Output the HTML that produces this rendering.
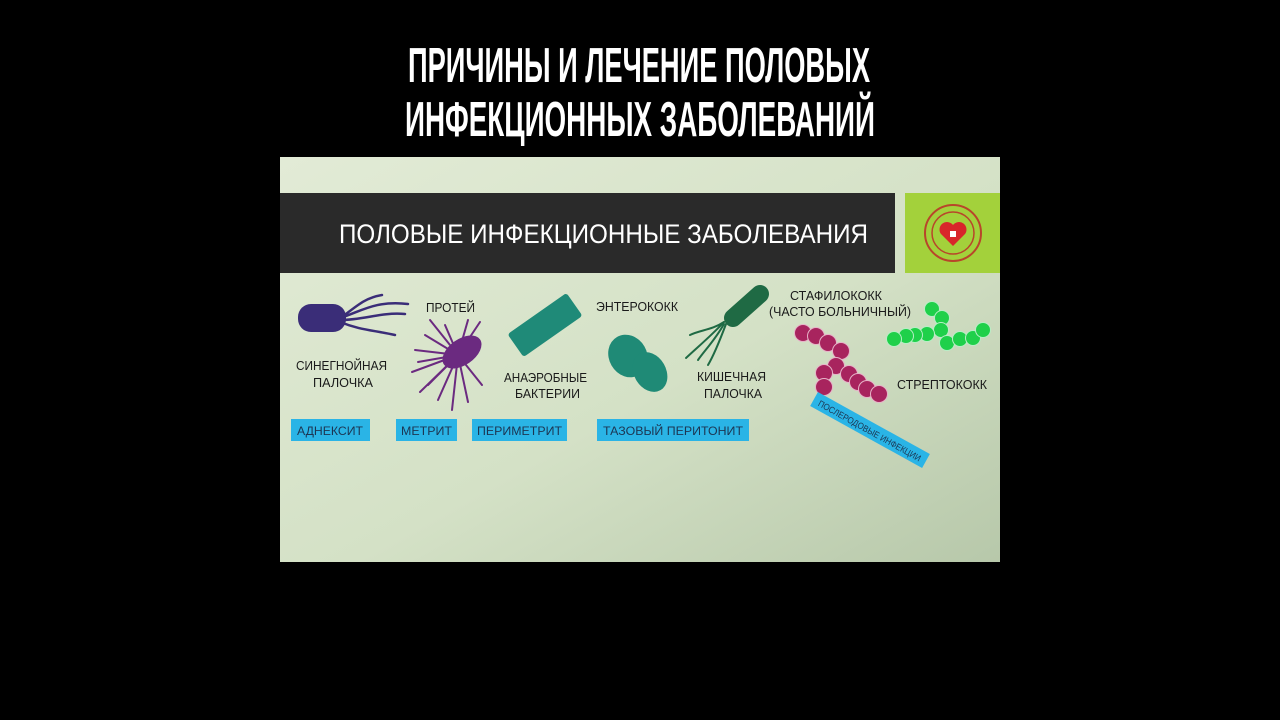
<!DOCTYPE html>
<html><head><meta charset="utf-8"><style>
html,body{margin:0;padding:0;background:#000;width:1280px;height:720px;overflow:hidden}
svg{display:block}
text{font-family:"Liberation Sans","DejaVu Sans",sans-serif}
</style></head><body>
<svg width="1280" height="720" viewBox="0 0 1280 720" xmlns="http://www.w3.org/2000/svg">
<defs>
<linearGradient id="bg" x1="0" y1="0" x2="1" y2="1">
<stop offset="0" stop-color="#e2ebd6"/><stop offset="0.55" stop-color="#d4e1c6"/><stop offset="1" stop-color="#b7c8aa"/>
</linearGradient>
</defs>
<rect width="1280" height="720" fill="#000"/>
<text x="408" y="82" font-size="49" font-weight="bold" fill="#fff" textLength="462" lengthAdjust="spacingAndGlyphs">ПРИЧИНЫ И ЛЕЧЕНИЕ ПОЛОВЫХ</text>
<text x="405" y="136" font-size="49" font-weight="bold" fill="#fff" textLength="470" lengthAdjust="spacingAndGlyphs">ИНФЕКЦИОННЫХ ЗАБОЛЕВАНИЙ</text>

<rect x="280" y="157" width="720" height="405" fill="url(#bg)"/>
<rect x="280" y="193" width="615" height="80" fill="#2a2a2a"/>
<text x="339" y="243" font-size="27" fill="#fff" textLength="529" lengthAdjust="spacingAndGlyphs">ПОЛОВЫЕ ИНФЕКЦИОННЫЕ ЗАБОЛЕВАНИЯ</text>
<rect x="905" y="193" width="95" height="80" fill="#a3d13b"/>
<circle cx="953" cy="233" r="28" fill="none" stroke="#b8462a" stroke-width="2"/>
<circle cx="953" cy="233" r="21" fill="none" stroke="#b8462a" stroke-width="1.5"/>
<path d="M953 246 L941 234 A6 6 0 0 1 953 225 A6 6 0 0 1 965 234 Z" fill="#d8262a"/>
<path d="M950 231h6v6h-6z" fill="#fff"/>

<g fill="none" stroke="#3a2d78" stroke-width="2.5" stroke-linecap="round">
<path d="M340 318 C360 312 375 300 408 304"/>
<path d="M340 320 C365 320 380 312 405 314"/>
<path d="M340 322 C360 330 372 330 395 335"/>
<path d="M342 317 C358 305 365 298 382 295"/>
</g>
<rect x="298" y="304" width="48" height="28" rx="13" fill="#3a2d78"/>

<g fill="none" stroke="#6b2a80" stroke-width="2" stroke-linecap="round">
<path d="M458 355 L480 322"/><path d="M458 355 L468 320"/><path d="M458 355 L445 325"/><path d="M458 355 L425 335"/>
<path d="M458 355 L415 350"/><path d="M458 355 L412 372"/><path d="M458 355 L420 392"/><path d="M458 355 L438 400"/>
<path d="M458 355 L452 410"/><path d="M458 355 L468 402"/><path d="M458 355 L482 385"/><path d="M458 355 L430 320"/>
<path d="M458 355 L418 362"/><path d="M458 355 L428 385"/>
</g>
<ellipse cx="462" cy="352" rx="22" ry="13" transform="rotate(-35 462 352)" fill="#6b2a80"/>

<rect x="509" y="311" width="72" height="28" rx="3" transform="rotate(-35 545 325)" fill="#1f8a78"/>

<ellipse cx="628" cy="356" rx="19" ry="22" transform="rotate(-30 628 356)" fill="#1f8a76"/>
<ellipse cx="650" cy="372" rx="16" ry="21" transform="rotate(-30 650 372)" fill="#1f8a76"/>

<g fill="none" stroke="#1f6a44" stroke-width="2" stroke-linecap="round">
<path d="M724 322 C712 335 700 345 686 358"/>
<path d="M724 322 C712 330 700 330 690 335"/>
<path d="M726 324 C720 340 714 355 708 365"/>
<path d="M724 324 C715 340 705 350 698 360"/>
</g>
<line x1="733" y1="318" x2="760" y2="294" stroke="#1f6a44" stroke-width="18" stroke-linecap="round"/>

<g fill="#a8245e" stroke="#e6b4c8" stroke-width="1">
<circle cx="803" cy="333" r="8.5"/><circle cx="816" cy="336" r="8.5"/><circle cx="828" cy="343" r="8.5"/><circle cx="841" cy="351" r="8.5"/>
<circle cx="836" cy="366" r="8.5"/><circle cx="824" cy="373" r="8.5"/><circle cx="849" cy="374" r="8.5"/><circle cx="858" cy="382" r="8.5"/>
<circle cx="867" cy="389" r="8.5"/><circle cx="879" cy="394" r="8.5"/><circle cx="824" cy="387" r="8.5"/>
</g>
<g fill="#1fd04a" stroke="#b8eec6" stroke-width="1">
<circle cx="932" cy="309" r="7.5"/><circle cx="942" cy="318" r="7.5"/><circle cx="941" cy="330" r="7.5"/><circle cx="927" cy="334" r="7.5"/>
<circle cx="915" cy="335" r="7.5"/><circle cx="906" cy="336" r="7.5"/><circle cx="894" cy="339" r="7.5"/><circle cx="947" cy="343" r="7.5"/>
<circle cx="960" cy="339" r="7.5"/><circle cx="973" cy="338" r="7.5"/><circle cx="983" cy="330" r="7.5"/>
</g>

<g font-size="13" fill="#1a1a1a">
<text x="426" y="312" textLength="49" lengthAdjust="spacingAndGlyphs">ПРОТЕЙ</text>
<text x="296" y="370" textLength="91" lengthAdjust="spacingAndGlyphs">СИНЕГНОЙНАЯ</text>
<text x="313" y="387" textLength="60" lengthAdjust="spacingAndGlyphs">ПАЛОЧКА</text>
<text x="504" y="382" textLength="83" lengthAdjust="spacingAndGlyphs">АНАЭРОБНЫЕ</text>
<text x="515" y="398" textLength="65" lengthAdjust="spacingAndGlyphs">БАКТЕРИИ</text>
<text x="596" y="311" textLength="82" lengthAdjust="spacingAndGlyphs">ЭНТЕРОКОКК</text>
<text x="790" y="300" textLength="92" lengthAdjust="spacingAndGlyphs">СТАФИЛОКОКК</text>
<text x="769" y="316" textLength="142" lengthAdjust="spacingAndGlyphs">(ЧАСТО БОЛЬНИЧНЫЙ)</text>
<text x="697" y="381" textLength="69" lengthAdjust="spacingAndGlyphs">КИШЕЧНАЯ</text>
<text x="704" y="398" textLength="58" lengthAdjust="spacingAndGlyphs">ПАЛОЧКА</text>
<text x="897" y="389" textLength="90" lengthAdjust="spacingAndGlyphs">СТРЕПТОКОКК</text>
</g>

<g fill="#2ab4e6">
<rect x="291" y="419" width="79" height="22"/><rect x="396" y="419" width="61" height="22"/>
<rect x="472" y="419" width="95" height="22"/><rect x="597" y="419" width="152" height="22"/>
</g>
<g font-size="12" fill="#1c3552">
<text x="297" y="435" textLength="66" lengthAdjust="spacingAndGlyphs">АДНЕКСИТ</text>
<text x="401" y="435" textLength="51" lengthAdjust="spacingAndGlyphs">МЕТРИТ</text>
<text x="477" y="435" textLength="85" lengthAdjust="spacingAndGlyphs">ПЕРИМЕТРИТ</text>
<text x="603" y="435" textLength="140" lengthAdjust="spacingAndGlyphs">ТАЗОВЫЙ ПЕРИТОНИТ</text>
</g>
<g transform="translate(870 430) rotate(29)">
<rect x="-64" y="-8" width="128" height="16" fill="#2ab4e6"/>
<text x="-58" y="4" font-size="9" fill="#1c3552" textLength="116" lengthAdjust="spacingAndGlyphs">ПОСЛЕРОДОВЫЕ ИНФЕКЦИИ</text>
</g>
</svg>
</body></html>
